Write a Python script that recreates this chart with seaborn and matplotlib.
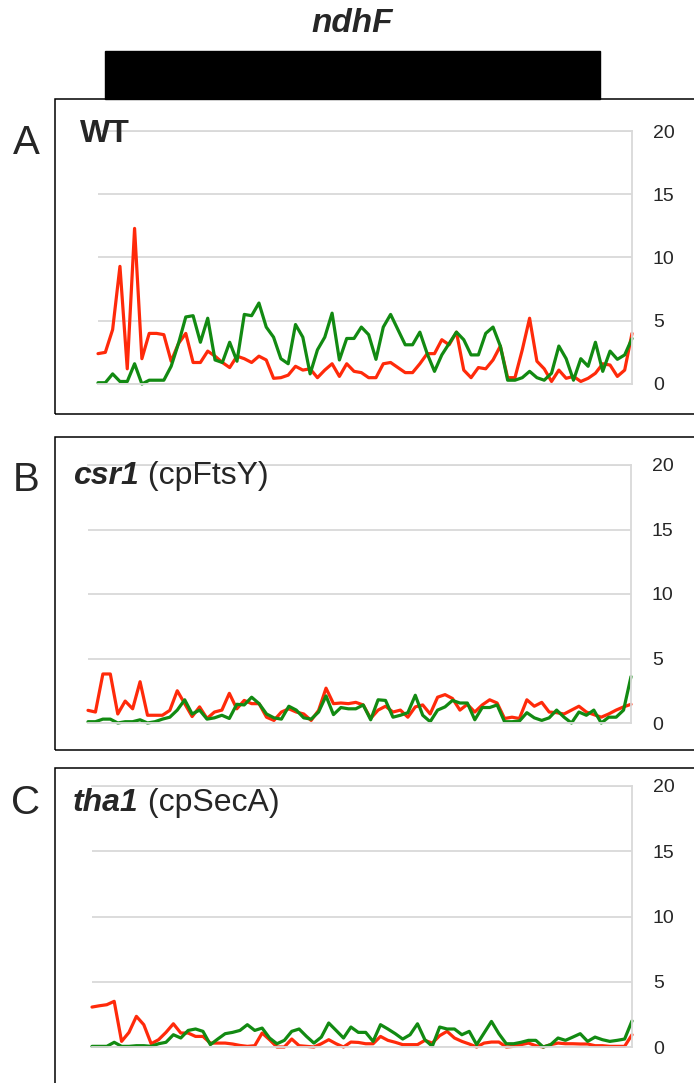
import numpy as np
import pandas as pd
import matplotlib
matplotlib.use("Agg")
import matplotlib.pyplot as plt
import seaborn as sns
from matplotlib.patches import Rectangle

# ---- data: ribosome footprint coverage along ndhF (74 positions) ----
positions = np.arange(74)

wt_red = [2.4, 2.5, 4.3, 9.3, 1.2, 12.3, 2.0, 4.0, 4.0, 3.9, 1.8, 3.2, 4.0, 1.7, 1.7, 2.6, 2.2, 1.7,
          1.3, 2.2, 2.0, 1.7, 2.2, 1.9, 0.45, 0.5, 0.7, 1.4, 1.1, 1.2, 0.5, 1.1, 1.6, 0.6, 1.6, 1.0, 0.9,
          0.5, 0.5, 1.6, 1.7, 1.3, 0.9, 0.9, 1.6, 2.4, 2.4, 3.5, 3.1, 4.1, 1.1, 0.5, 1.3, 1.2, 1.9, 3.0,
          0.5, 0.5, 2.7, 5.2, 1.8, 1.2, 0.2, 1.1, 0.45, 0.6, 0.2, 0.45, 0.85, 1.6, 1.5, 0.6, 1.1, 4.0]
wt_green = [0.1, 0.1, 0.8, 0.2, 0.2, 1.6, 0.0, 0.3, 0.3, 0.3, 1.4, 3.2, 5.3, 5.4, 3.3, 5.2, 1.9, 1.7,
            3.3, 1.8, 5.5, 5.4, 6.4, 4.5, 3.7, 2.0, 1.6, 4.7, 3.7, 0.8, 2.7, 3.7, 5.6, 1.9, 3.6, 3.6, 4.5,
            3.9, 1.95, 4.5, 5.5, 4.3, 3.1, 3.1, 4.1, 2.4, 1.0, 2.3, 3.2, 4.1, 3.5, 2.3, 2.3, 4.0, 4.5, 3.0,
            0.3, 0.3, 0.5, 1.0, 0.5, 0.3, 0.85, 3.0, 2.0, 0.3, 2.0, 1.4, 3.3, 1.0, 2.6, 1.95, 2.3, 3.6]

csr1_red = [0.98, 0.85, 3.8, 3.8, 0.7, 1.7, 1.1, 3.2, 0.6, 0.6, 0.6, 0.98, 2.5, 1.5, 0.5, 1.25, 0.35,
            0.85, 1.0, 2.3, 1.1, 1.75, 1.5, 1.5, 0.45, 0.2, 0.85, 1.1, 0.85, 0.7, 0.2, 0.98, 2.7, 1.5,
            1.55, 1.5, 1.6,
            1.4, 0.35, 1.0, 1.3, 0.85, 1.0, 0.45, 1.25, 1.4, 0.7, 2.0, 2.2, 1.9, 1.0, 1.45, 0.85, 1.4,
            1.8, 1.55, 0.35, 0.45, 0.35, 1.8, 1.3, 1.6, 0.85, 0.8, 0.7, 1.0, 1.3, 0.85, 0.65, 0.45,
            0.7, 1.0, 1.25, 1.45]
csr1_green = [0.1, 0.1, 0.3, 0.3, 0.0, 0.1, 0.1, 0.25, 0.0, 0.1, 0.3, 0.45, 1.0, 1.8, 0.7, 1.0, 0.3,
              0.4, 0.6, 0.35, 1.45, 1.4, 2.0, 1.5, 0.7, 0.4, 0.3, 1.3, 1.0, 0.4, 0.3, 0.85, 2.1, 0.65,
              1.2, 1.1, 1.1,
              1.4, 0.25, 1.8, 1.75, 0.45, 0.6, 0.8, 2.15, 0.6, 0.1, 1.0, 1.25, 1.75, 1.55, 1.55, 0.25,
              1.2, 1.2, 1.4, 0.1, 0.1, 0.15, 0.8, 0.4, 0.2, 0.4, 1.0, 0.45, 0.0, 0.85, 0.6, 1.0, 0.0,
              0.45, 0.45, 1.0, 3.6]

tha1_red = [3.06, 3.16, 3.24, 3.5, 0.43, 1.12, 2.35, 1.71, 0.25, 0.56, 1.12, 1.78, 1.07, 1.07, 0.81,
            0.81, 0.3, 0.3, 0.3, 0.23, 0.12, 0.05, 0.1, 1.07, 0.56, 0.0, 0.0, 0.61, 0.1, 0.05, 0.0,
            0.25, 0.56, 0.25, 0.0, 0.38, 0.35,
            0.25, 0.25, 0.81, 0.51, 0.36, 0.18, 0.18, 0.18, 0.51, 0.3, 0.87, 1.2, 0.69, 0.43, 0.23,
            0.0, 0.3, 0.38, 0.38, 0.0, 0.05, 0.18, 0.3, 0.1, 0.0, 0.18, 0.3, 0.25, 0.25, 0.23, 0.23,
            0.1, 0.1, 0.05, 0.05, 0.05, 0.94]
tha1_green = [0.05, 0.05, 0.05, 0.36, 0.05, 0.05, 0.1, 0.1, 0.05, 0.25, 0.36, 0.94, 0.69, 1.27, 1.38,
              1.2, 0.18, 0.61, 1.02, 1.12, 1.27, 1.71, 1.27, 1.45, 0.69, 0.25, 0.51, 1.2, 1.38, 0.81,
              0.3, 0.76, 1.84, 1.27, 0.69, 1.53, 1.12,
              1.12, 0.43, 1.71, 1.38, 1.02, 0.61, 0.94, 1.78, 0.56, 0.05, 1.53, 1.38, 1.38, 0.94, 1.2,
              0.18, 1.07, 1.96, 1.02, 0.25, 0.25, 0.36, 0.51, 0.51, 0.0, 0.18, 0.69, 0.51, 0.76, 1.02,
              0.43, 0.76, 0.56, 0.43, 0.51, 0.61, 2.0]

y_ticks = [0, 5, 10, 15, 20]
panel_letters = ["A", "B", "C"]
strain_names = ["WT", "csr1", "tha1"]
strain_notes = ["", " (cpFtsY)", " (cpSecA)"]
gene_name = "ndhF"

RED = "#FF2A0A"
GREEN = "#128A12"
GRID = "#D9D9D9"

sns.set_theme(style="white")
plt.rcParams["font.family"] = ["Liberation Sans", "DejaVu Sans"]

W, H = 694, 1083
fig = plt.figure(figsize=(W / 100, H / 100), dpi=100)


def fx(x):
    return x / W


def fy(y):
    return 1 - y / H


def px_box(x0, y0, x1, y1):
    return [fx(x0), fy(y1), (x1 - x0) / W, (y1 - y0) / H]


# gene model above the panels
fig.add_artist(Rectangle((fx(105), fy(99)), (600 - 105) / W, (99 - 51) / H,
                         facecolor="black", edgecolor="black", transform=fig.transFigure))
fig.text(fx(352), fy(23), gene_name, ha="center", va="center", fontsize=24,
         fontweight="bold", fontstyle="italic")

# layout of each panel: plot area (left, top, right, bottom) and outer frame (top, bottom)
plot_areas = [(98, 131, 632, 384), (88, 465, 631, 723), (92, 786, 632, 1047)]
frames = [(99, 414), (437, 750), (768, 1090)]
letter_y = [143, 480, 803]
name_pos = [(80, 134), (73, 476), (73, 803)]
series = [(wt_red, wt_green), (csr1_red, csr1_green), (tha1_red, tha1_green)]

renderer = fig.canvas.get_renderer()

for k in range(3):
    top, bottom = frames[k]
    fig.add_artist(Rectangle((fx(55), fy(bottom)), (720 - 55) / W, (bottom - top) / H,
                             fill=False, edgecolor="black", linewidth=1.1,
                             transform=fig.transFigure))
    fig.text(fx(26), fy(letter_y[k]), panel_letters[k], ha="center", va="center",
             fontsize=29)

    x0, y0, x1, y1 = plot_areas[k]
    ax = fig.add_axes(px_box(x0, y0, x1, y1))
    red, green = series[k]
    df = pd.DataFrame({"pos": positions, "red": red, "green": green})
    sns.lineplot(data=df, x="pos", y="red", ax=ax, color=RED, linewidth=2.3,
                 clip_on=False, legend=False)
    sns.lineplot(data=df, x="pos", y="green", ax=ax, color=GREEN, linewidth=2.3,
                 clip_on=False, legend=False)
    ax.set_xlim(positions[0], positions[-1])
    ax.set_ylim(0, 20)
    ax.set_xticks([])
    ax.set_yticks(y_ticks)
    ax.set_xlabel("")
    ax.set_ylabel("")
    ax.yaxis.tick_right()
    ax.tick_params(axis="y", length=0, pad=15, labelsize=14, labelcolor="#262626")
    ax.grid(axis="y", color=GRID, linewidth=1.3)
    ax.set_axisbelow(True)
    ax.patch.set_alpha(0)
    ax.spines["left"].set_visible(False)
    for side in ("top", "right", "bottom"):
        ax.spines[side].set_visible(True)
        ax.spines[side].set_color(GRID)
        ax.spines[side].set_linewidth(1.3)

    nx, ny = name_pos[k]
    if k == 0:
        fig.text(fx(nx), fy(ny), strain_names[k], ha="left", va="center",
                 fontsize=23, fontweight="bold")
    else:
        t = fig.text(fx(nx), fy(ny), strain_names[k], ha="left", va="center",
                     fontsize=23, fontweight="bold", fontstyle="italic")
        bb = t.get_window_extent(renderer=renderer)
        fig.text(bb.x1 / W, fy(ny), strain_notes[k], ha="left", va="center",
                 fontsize=23)

fig.savefig("out.png", dpi=100)
